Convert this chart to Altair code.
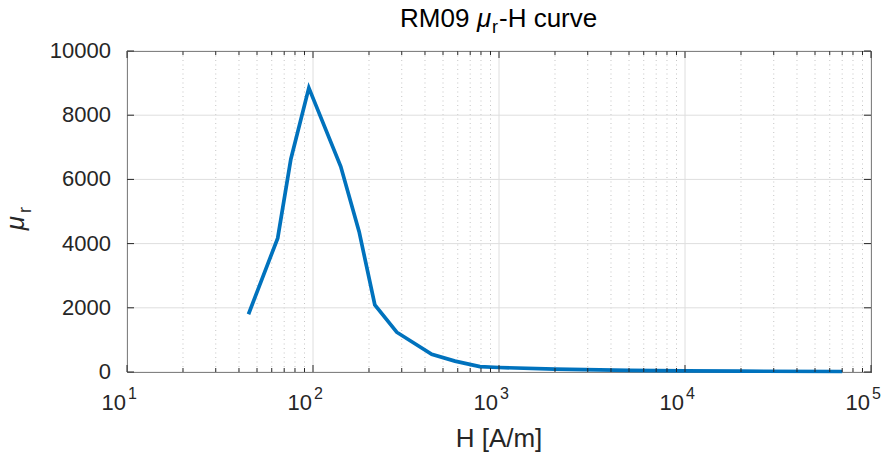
import altair as alt
import pandas as pd

# ---- data ----
H_VALUES = [45, 64.6, 76, 95, 141, 177, 215, 282, 435, 580, 790, 1000, 2000, 5000, 10000, 20000, 70000]
MU_VALUES = [1800, 4170, 6630, 8850, 6400, 4370, 2090, 1240, 550, 340, 170, 140, 90, 50, 35, 25, 15]

X_MAJOR = [10, 100, 1000, 10000, 100000]
X_EXPONENTS = ["1", "2", "3", "4", "5"]
X_MINOR = [m * 10 ** k for k in range(1, 5) for m in range(2, 10)]
Y_TICKS = [0, 2000, 4000, 6000, 8000, 10000]
Y_LABELS = ["0", "2000", "4000", "6000", "8000", "10000"]

TITLE_PARTS = ["RM09", "μ", "r", "-H curve"]
XLABEL = "H [A/m]"
YLABEL_PARTS = ["μ", "r"]

W, HT = 744, 321
FONT = "Liberation Sans"
AX = "#262626"
BLUE = "#0072BD"

xs = alt.Scale(type="log", domain=[10, 100000])
ys = alt.Scale(domain=[0, 10000])

curve = pd.DataFrame({"H": H_VALUES, "mu": MU_VALUES})
major = pd.DataFrame({"v": X_MAJOR, "exp": X_EXPONENTS, "base": ["10"] * len(X_MAJOR)})
minor = pd.DataFrame({"v": X_MINOR})
yt = pd.DataFrame({"v": Y_TICKS, "lab": Y_LABELS})


def X(f="v"):
    return alt.X(f"{f}:Q", scale=xs, axis=None)


def Y(f="v"):
    return alt.Y(f"{f}:Q", scale=ys, axis=None)


grid_major_x = alt.Chart(major).mark_rule(color="#dedede", strokeWidth=1).encode(
    x=X(), y=alt.value(0), y2=alt.value(HT))
grid_minor_x = alt.Chart(minor).mark_rule(color="#c4c4c4", strokeWidth=1, strokeDash=[1, 3.5]).encode(
    x=X(), y=alt.value(0), y2=alt.value(HT))
grid_y = alt.Chart(yt).mark_rule(color="#dedede", strokeWidth=1).encode(
    y=Y(), x=alt.value(0), x2=alt.value(W))

line = alt.Chart(curve).mark_line(color=BLUE, strokeWidth=3.7, strokeCap="butt", strokeJoin="miter").encode(
    x=alt.X("H:Q", scale=xs, axis=None), y=alt.Y("mu:Q", scale=ys, axis=None))

tick_style = dict(color=AX, strokeWidth=1)
t_bot_major = alt.Chart(major).mark_rule(**tick_style).encode(x=X(), y=alt.value(HT), y2=alt.value(HT - 7))
t_top_major = alt.Chart(major).mark_rule(**tick_style).encode(x=X(), y=alt.value(0), y2=alt.value(7))
t_bot_minor = alt.Chart(minor).mark_rule(**tick_style).encode(x=X(), y=alt.value(HT), y2=alt.value(HT - 4))
t_top_minor = alt.Chart(minor).mark_rule(**tick_style).encode(x=X(), y=alt.value(0), y2=alt.value(4))
t_left = alt.Chart(yt).mark_rule(**tick_style).encode(y=Y(), x=alt.value(0), x2=alt.value(7))
t_right = alt.Chart(yt).mark_rule(**tick_style).encode(y=Y(), x=alt.value(W), x2=alt.value(W - 7))

xlab_base = alt.Chart(major).mark_text(font=FONT, fontSize=22, color=AX, align="right", baseline="alphabetic", dx=-1).encode(
    x=X(), y=alt.value(HT + 38), text="base:N")
xlab_exp = alt.Chart(major).mark_text(font=FONT, fontSize=16, color=AX, align="left", baseline="alphabetic", dx=1).encode(
    x=X(), y=alt.value(HT + 27), text="exp:N")
ylab = alt.Chart(yt).mark_text(font=FONT, fontSize=22, color=AX, align="right", baseline="middle", dx=-16).encode(
    y=Y(), x=alt.value(0), text="lab:N")


def txt(s, x, y, size=26, style="normal", align="left", angle=0, color="#000000"):
    df = pd.DataFrame({"t": [s]})
    return alt.Chart(df).mark_text(font=FONT, fontSize=size, fontStyle=style, align=align,
                                   baseline="alphabetic", angle=angle, color=color).encode(
        x=alt.value(x), y=alt.value(y), text="t:N")


tx0 = 273
title = [
    txt(TITLE_PARTS[0], tx0, -24),
    txt(TITLE_PARTS[1], tx0 + 77, -24, style="italic"),
    txt(TITLE_PARTS[2], tx0 + 92, -18, size=18),
    txt(TITLE_PARTS[3], tx0 + 99, -24),
]
xlabel = txt(XLABEL, W / 2, HT + 75, align="center", color=AX)
ylabel = [
    txt(YLABEL_PARTS[0], -103, 172, style="italic", align="center", angle=270, color=AX),
    txt(YLABEL_PARTS[1], -96, 159, size=18, align="center", angle=270, color=AX),
]

chart = alt.layer(
    grid_minor_x, grid_major_x, grid_y, line,
    t_bot_major, t_top_major, t_bot_minor, t_top_minor, t_left, t_right,
    xlab_base, xlab_exp, ylab, *title, xlabel, *ylabel,
).properties(
    width=W, height=HT,
    autosize=alt.AutoSizeParams(type="none"),
    padding={"left": 127, "top": 51, "right": 22, "bottom": 84},
    background="white",
).configure_view(stroke=AX, strokeWidth=1)

chart.save("out.html", embed_options={"renderer": "svg", "actions": False})
